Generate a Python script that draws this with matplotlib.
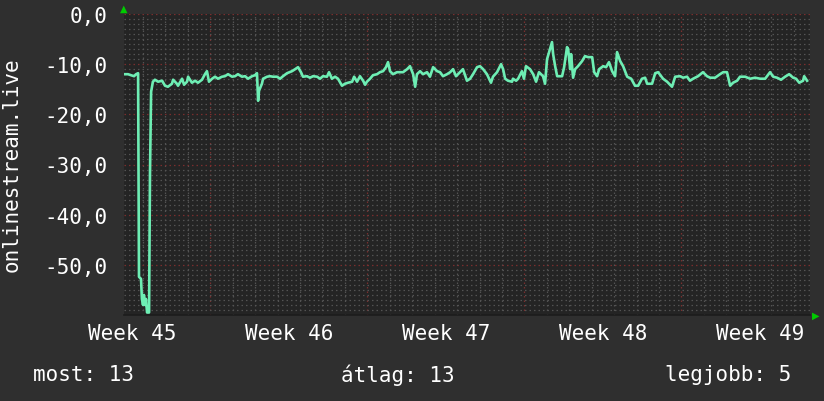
import matplotlib
matplotlib.use("Agg")
import matplotlib.pyplot as plt

# time in days (origin = midnight before the window), value
days = [0.20, 0.33, 0.46, 0.60, 0.69, 0.78, 0.82, 0.91, 0.95, 1.00, 1.04, 1.09, 1.13, 1.18, 1.27,
        1.31, 1.36, 1.44, 1.53, 1.67, 1.85, 1.98, 2.11, 2.29, 2.34, 2.51, 2.56, 2.74, 2.83, 2.96,
        3.01, 3.18, 3.32, 3.45, 3.63, 3.76, 3.85, 3.94, 4.08, 4.21, 4.34, 4.52, 4.65, 4.79, 4.97,
        5.10, 5.23, 5.41, 5.55, 5.68, 5.86, 5.99, 6.08, 6.13, 6.17, 6.30, 6.35, 6.53, 6.66, 6.79,
        6.97, 7.11, 7.24, 7.42, 7.64, 7.78, 7.91, 8.04, 8.13, 8.31, 8.44, 8.58, 8.76, 8.89, 9.02,
        9.20, 9.29, 9.42, 9.56, 9.69, 9.87, 10.00, 10.14, 10.32, 10.41, 10.54, 10.67, 10.81, 10.90,
        10.98, 11.12, 11.25, 11.43, 11.56, 11.70, 11.83, 11.92, 12.01, 12.14, 12.32, 12.46, 12.59,
        12.77, 12.90, 13.04, 13.13, 13.21, 13.35, 13.48, 13.66, 13.79, 13.93, 14.11, 14.24, 14.37,
        14.55, 14.69, 14.82, 14.95, 15.13, 15.26, 15.44, 15.58, 15.71, 15.89, 16.02, 16.16, 16.33,
        16.51, 16.60, 16.78, 16.96, 17.05, 17.14, 17.27, 17.45, 17.49, 17.63, 17.72, 17.89, 17.98,
        18.07, 18.25, 18.39, 18.52, 18.65, 18.83, 18.92, 19.01, 19.14, 19.23, 19.28, 19.37, 19.46,
        19.68, 19.77, 19.90, 19.95, 20.04, 20.08, 20.17, 20.26, 20.39, 20.57, 20.70, 20.84, 21.02,
        21.11, 21.24, 21.33, 21.51, 21.64, 21.77, 21.91, 22.04, 22.13, 22.27, 22.40, 22.58, 22.76,
        22.93, 23.07, 23.24, 23.38, 23.47, 23.69, 23.83, 23.96, 24.18, 24.36, 24.58, 24.72, 24.94,
        25.07, 25.25, 25.38, 25.52, 25.74, 25.96, 26.14, 26.28, 26.50, 26.72, 26.86, 27.03, 27.17,
        27.30, 27.48, 27.61, 27.84, 28.06, 28.28, 28.51, 28.73, 28.95, 29.09, 29.26, 29.44, 29.62,
        29.80, 29.98, 30.11, 30.25, 30.42, 30.47, 30.60]
values = [-12.0, -12.0, -12.2, -12.4, -12.0, -11.8, -52.4, -52.8, -56.8, -58.0, -56.0, -58.0, -56.8, -59.5, -59.5,
          -32.1, -15.5, -13.5, -13.1, -13.5, -13.3, -14.3, -14.5, -13.9, -13.1, -13.9, -14.3, -12.9, -14.1, -13.5,
          -12.5, -13.7, -13.3, -13.7, -13.1, -12.0, -11.4, -13.5, -12.9, -12.5, -12.9, -12.5, -12.4, -12.0, -12.5,
          -12.4, -12.0, -12.5, -12.4, -12.9, -12.4, -12.2, -11.8, -17.3, -15.3, -13.9, -12.9, -12.5, -12.4, -12.5,
          -12.5, -12.9, -12.4, -11.8, -11.4, -11.0, -10.6, -11.6, -12.5, -12.4, -12.7, -12.4, -12.5, -12.9, -12.4,
          -12.5, -11.6, -12.9, -12.5, -12.9, -14.3, -13.9, -13.7, -13.5, -12.5, -13.5, -12.4, -13.3, -14.1,
          -13.5, -12.9, -12.2, -12.0, -11.6, -11.4, -10.6, -9.6, -11.4, -12.0, -11.6, -11.6, -11.6,
          -11.0, -10.4, -12.0, -14.5, -12.0, -11.4, -12.0, -11.6, -12.5, -10.6, -11.4, -11.6, -12.4,
          -12.0, -11.6, -11.0, -12.4, -11.6, -11.0, -13.3, -12.9, -12.0, -10.6, -10.4, -11.0, -12.0,
          -13.7, -12.5, -11.6, -10.0, -11.0, -12.9, -13.3, -13.5, -12.9, -13.3, -12.9, -11.4, -12.9,
          -10.4, -11.0, -12.0, -13.5, -11.6, -12.4, -13.9, -9.0, -7.0, -5.6, -8.0, -10.4, -12.4,
          -12.4, -10.6, -6.6, -7.0, -11.0, -8.0, -12.7, -11.0, -10.4, -9.4, -8.4, -8.6, -8.6,
          -11.6, -12.4, -11.0, -10.4, -10.6, -9.6, -11.4, -12.4, -7.6, -9.4, -10.4, -12.5, -12.9,
          -14.3, -14.3, -12.9, -12.7, -13.9, -13.9, -11.8, -11.6, -12.9, -13.5, -14.5, -12.5, -12.4,
          -12.7, -12.5, -13.3, -12.9, -12.4, -11.6, -12.4, -12.7, -12.7, -12.0, -11.6, -11.6, -14.3,
          -13.7, -13.3, -12.5, -12.5, -12.9, -12.7, -12.9, -12.9, -11.6, -12.5, -12.7, -13.1, -12.5,
          -12.0, -12.7, -12.9, -13.7, -13.3, -12.4, -13.3]

week_label_pos = [0.5, 7.5, 14.5, 21.5, 28.5]
week_labels = ["Week 45", "Week 46", "Week 47", "Week 48", "Week 49"]
week_lines = [4, 11, 18, 25]
y_ticks = [0, -10, -20, -30, -40, -50]
y_tick_labels = ["0,0", "-10,0", "-20,0", "-30,0", "-40,0", "-50,0"]
series_name = "onlinestream.live"
legend_items = ["most: 13", "átlag: 13", "legjobb: 5"]

bg = "#2f2f2f"
plot_bg = "#242424"
line_col = "#6eeeb4"
minor_col = "#535353"
major_col = "#7a2e2e"
mono = "DejaVu Sans Mono"

fig = plt.figure(figsize=(8.24, 4.02), dpi=100, facecolor=bg)
ax = fig.add_axes([124 / 824, 86 / 402, 686 / 824, 301 / 402])
ax.set_facecolor(plot_bg)

ax.set_xlim(0.152, 30.73)
ax.set_ylim(-60, 0)

# grid: days / single units grey, weeks / tens red
dots = (0, (1.2, 2.4))
for d in range(1, 31):
    if d not in week_lines:
        ax.axvline(d, color=minor_col, lw=0.9, ls=dots, zorder=1)
for d in week_lines:
    ax.axvline(d, color=major_col, lw=0.9, ls=dots, zorder=1)
for v in range(-59, 0):
    if v % 10 != 0:
        ax.axhline(v, color=minor_col, lw=0.9, ls=dots, zorder=1)
for v in y_ticks:
    ax.axhline(v, color=major_col, lw=0.9, ls=dots, zorder=1)

ax.plot(days, values, color=line_col, lw=1.9, zorder=3)

ax.set_yticks(y_ticks)
ax.set_yticklabels(y_tick_labels, family=mono, fontsize=15, color="white")
ax.set_xticks(week_label_pos)
ax.set_xticklabels(week_labels, family=mono, fontsize=15, color="white")
ax.tick_params(axis="both", length=0)
ax.tick_params(axis="y", pad=12)
ax.tick_params(axis="x", pad=6)

for s in ["top", "right", "left"]:
    ax.spines[s].set_visible(False)
ax.spines["bottom"].set_color("#1c1c1c")
ax.spines["bottom"].set_linewidth(1.2)

# rrdtool style axis arrows
fig.text(124 / 824, 388 / 402, "▲", color="#00cc00", fontsize=7, ha="center", va="bottom", family="DejaVu Sans")
fig.text(816 / 824, 86 / 402, "▶", color="#00cc00", fontsize=7, ha="center", va="center", family="DejaVu Sans")

fig.text(12 / 824, 0.591, series_name, rotation=90, ha="center", va="center",
         family=mono, fontsize=15, color="white")

fig.text(33 / 824, 0.067, legend_items[0], ha="left", va="center", family=mono, fontsize=15, color="white")
fig.text(398 / 824, 0.067, legend_items[1], ha="center", va="center", family=mono, fontsize=15, color="white")
fig.text(791 / 824, 0.067, legend_items[2], ha="right", va="center", family=mono, fontsize=15, color="white")

fig.savefig("out.png", dpi=100, facecolor=bg)
